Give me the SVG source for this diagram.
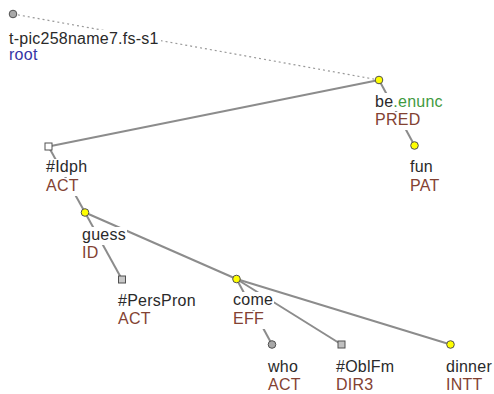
<svg xmlns="http://www.w3.org/2000/svg" width="494" height="394" viewBox="0 0 494 394">
<style>
text{font-family:"Liberation Sans",Arial,sans-serif;font-size:16px;fill:#2a2a2a;letter-spacing:0.25px}
.fn{fill:#834232}
.rt{fill:#3535a5}
.gr{fill:#3f9a3f}
.bg{fill:#fff}
.e{stroke:#8c8c8c;stroke-width:2;fill:none}
.d{stroke:#999;stroke-width:1.2;stroke-dasharray:2 3;fill:none}
.y{fill:#ffff00;stroke:#505050;stroke-width:1}
.g{fill:#a8a8a8;stroke:#505050;stroke-width:1}
.s{stroke:#505050;stroke-width:1}
</style>
<rect width="494" height="394" fill="#fff"/>
<g id="edges">
<line class="d" x1="13" y1="14" x2="379" y2="80"/>
<line class="e" x1="379" y1="80" x2="48.5" y2="146.5"/>
<line class="e" x1="379" y1="80" x2="414.5" y2="145.5"/>
<line class="e" x1="48.5" y1="146.5" x2="85" y2="212.5"/>
<line class="e" x1="85" y1="212.5" x2="122" y2="279.5"/>
<line class="e" x1="85" y1="212.5" x2="236.5" y2="279"/>
<line class="e" x1="236.5" y1="279" x2="272" y2="344.5"/>
<line class="e" x1="236.5" y1="279" x2="341.5" y2="344.5"/>
<line class="e" x1="236.5" y1="279" x2="450.5" y2="344.5"/>
</g>
<g id="n-root">
<rect class="bg" x="8" y="30" width="153" height="18"/>
<rect class="bg" x="8" y="47" width="31" height="18"/>
<text x="9" y="43.5">t-pic258name7.fs-s1</text>
<text class="rt" x="9" y="60">root</text>
<circle class="g" cx="13" cy="14" r="3.8"/>
</g>
<g id="n-be">
<rect class="bg" x="374" y="93" width="70" height="18"/>
<rect class="bg" x="374" y="112" width="47" height="18"/>
<text x="375" y="106.5">be<tspan class="gr">.enunc</tspan></text>
<text class="fn" x="375" y="125">PRED</text>
<circle class="y" cx="379" cy="80" r="3.8"/>
</g>
<g id="n-fun">
<rect class="bg" x="409" y="159" width="26" height="18"/>
<rect class="bg" x="409" y="178" width="35" height="18"/>
<text x="410" y="172">fun</text>
<text class="fn" x="410" y="191">PAT</text>
<circle class="y" cx="414.5" cy="145.5" r="3.8"/>
</g>
<g id="n-idph">
<rect class="bg" x="45" y="159" width="44" height="18"/>
<rect class="bg" x="45" y="178" width="35" height="18"/>
<text x="46" y="172">#Idph</text>
<text class="fn" x="46" y="191">ACT</text>
<rect x="45" y="143" width="7" height="7" fill="#fff" class="s"/>
</g>
<g id="n-guess">
<rect class="bg" x="81" y="227" width="46" height="18"/>
<rect class="bg" x="81" y="245" width="19" height="18"/>
<text x="82" y="239.5">guess</text>
<text class="fn" x="82" y="258">ID</text>
<circle class="y" cx="85" cy="212.5" r="3.8"/>
</g>
<g id="n-perspron">
<rect class="bg" x="117" y="292" width="80" height="18"/>
<rect class="bg" x="117" y="311" width="35" height="18"/>
<text x="118" y="305.5">#PersPron</text>
<text class="fn" x="118" y="324">ACT</text>
<rect x="118.5" y="276" width="7" height="7" fill="#c8c8c8" class="s"/>
</g>
<g id="n-come">
<rect class="bg" x="232" y="292" width="42" height="18"/>
<rect class="bg" x="232" y="311" width="33" height="18"/>
<text x="233" y="305">come</text>
<text class="fn" x="233" y="323.5">EFF</text>
<circle class="y" cx="236.5" cy="279" r="3.8"/>
</g>
<g id="n-who">
<rect class="bg" x="267" y="358" width="32" height="18"/>
<rect class="bg" x="267" y="377" width="35" height="17"/>
<text x="268" y="371.5">who</text>
<text class="fn" x="268" y="390">ACT</text>
<circle class="g" cx="272" cy="344.5" r="3.8"/>
</g>
<g id="n-oblfm">
<rect class="bg" x="335" y="358" width="61" height="18"/>
<rect class="bg" x="335" y="377" width="39" height="17"/>
<text x="336" y="371.5">#OblFm</text>
<text class="fn" x="336" y="390">DIR3</text>
<rect x="338" y="341" width="7" height="7" fill="#c0c0c0" class="s"/>
</g>
<g id="n-dinner">
<rect class="bg" x="445" y="358" width="48" height="18"/>
<rect class="bg" x="445" y="377" width="39" height="17"/>
<text x="446" y="371.5">dinner</text>
<text class="fn" x="446" y="390">INTT</text>
<circle class="y" cx="450.5" cy="344.5" r="3.8"/>
</g>
</svg>
